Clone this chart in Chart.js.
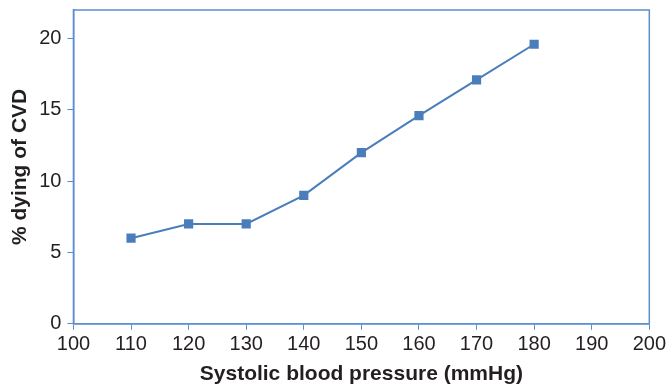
<!DOCTYPE html>
<html>
<head>
<meta charset="utf-8">
<script src="https://cdn.jsdelivr.net/npm/chart.js@4"></script>
<style>
  html, body { margin: 0; padding: 0; background: #fff; }
  #wrap { width: 669px; height: 387px; }
</style>
</head>
<body>
<div id="wrap"><canvas id="chart" width="669" height="387"></canvas></div>
<script>
const bloodPressure = [110, 120, 130, 140, 150, 160, 170, 180];
const dyingPct = [6, 7, 7, 9, 12, 14.6, 17.1, 19.6];
const xTitle = 'Systolic blood pressure (mmHg)';
const yTitle = '% dying of CVD';

const axisBlue = '#5b8fd0';
const seriesBlue = '#4a7ebb';

// box round the plot area, like the original frame
const frame = {
    id: 'frame',
    afterDraw(chart) {
        const a = chart.chartArea;
        const ctx = chart.ctx;
        ctx.save();
        ctx.strokeStyle = axisBlue;
        ctx.lineWidth = 1.5;
        ctx.strokeRect(a.left, a.top, a.right - a.left, a.bottom - a.top);
        ctx.restore();
    }
};

Chart.defaults.font.family = '"Liberation Sans", Arial, Helvetica, sans-serif';
Chart.defaults.color = '#231f20';

new Chart(document.getElementById('chart').getContext('2d'), {
    type: 'line',
    data: {
        datasets: [{
            data: bloodPressure.map((x, i) => ({ x: x, y: dyingPct[i] })),
            borderColor: seriesBlue,
            backgroundColor: seriesBlue,
            borderWidth: 2,
            pointStyle: 'rect',
            pointRadius: 6.5,
            pointHoverRadius: 6.5,
            pointBorderWidth: 0,
            tension: 0,
            fill: false
        }]
    },
    options: {
        responsive: false,
        animation: false,
        layout: { padding: { top: 10, right: 16, left: 1, bottom: 0 } },
        plugins: {
            legend: { display: false },
            tooltip: { enabled: false }
        },
        scales: {
            x: {
                type: 'linear',
                min: 100,
                max: 200,
                ticks: { stepSize: 10, font: { size: 20 }, padding: 3, maxRotation: 0 },
                grid: { drawOnChartArea: false, color: axisBlue, tickLength: 6 },
                border: { color: axisBlue, width: 1.5 },
                title: { display: true, text: xTitle, font: { size: 21, weight: 'bold' }, padding: { top: 2, bottom: 0 } }
            },
            y: {
                min: 0,
                max: 22,
                afterFit: (scale) => { scale.paddingTop = 0; },
                ticks: { stepSize: 5, includeBounds: false, font: { size: 20 }, padding: 6 },
                grid: { drawOnChartArea: false, color: axisBlue, tickLength: 6 },
                border: { color: axisBlue, width: 1.5 },
                title: { display: true, text: yTitle, font: { size: 21, weight: 'bold' }, padding: { top: 7, bottom: 0 } }
            }
        }
    },
    plugins: [frame]
});
</script>
</body>
</html>
